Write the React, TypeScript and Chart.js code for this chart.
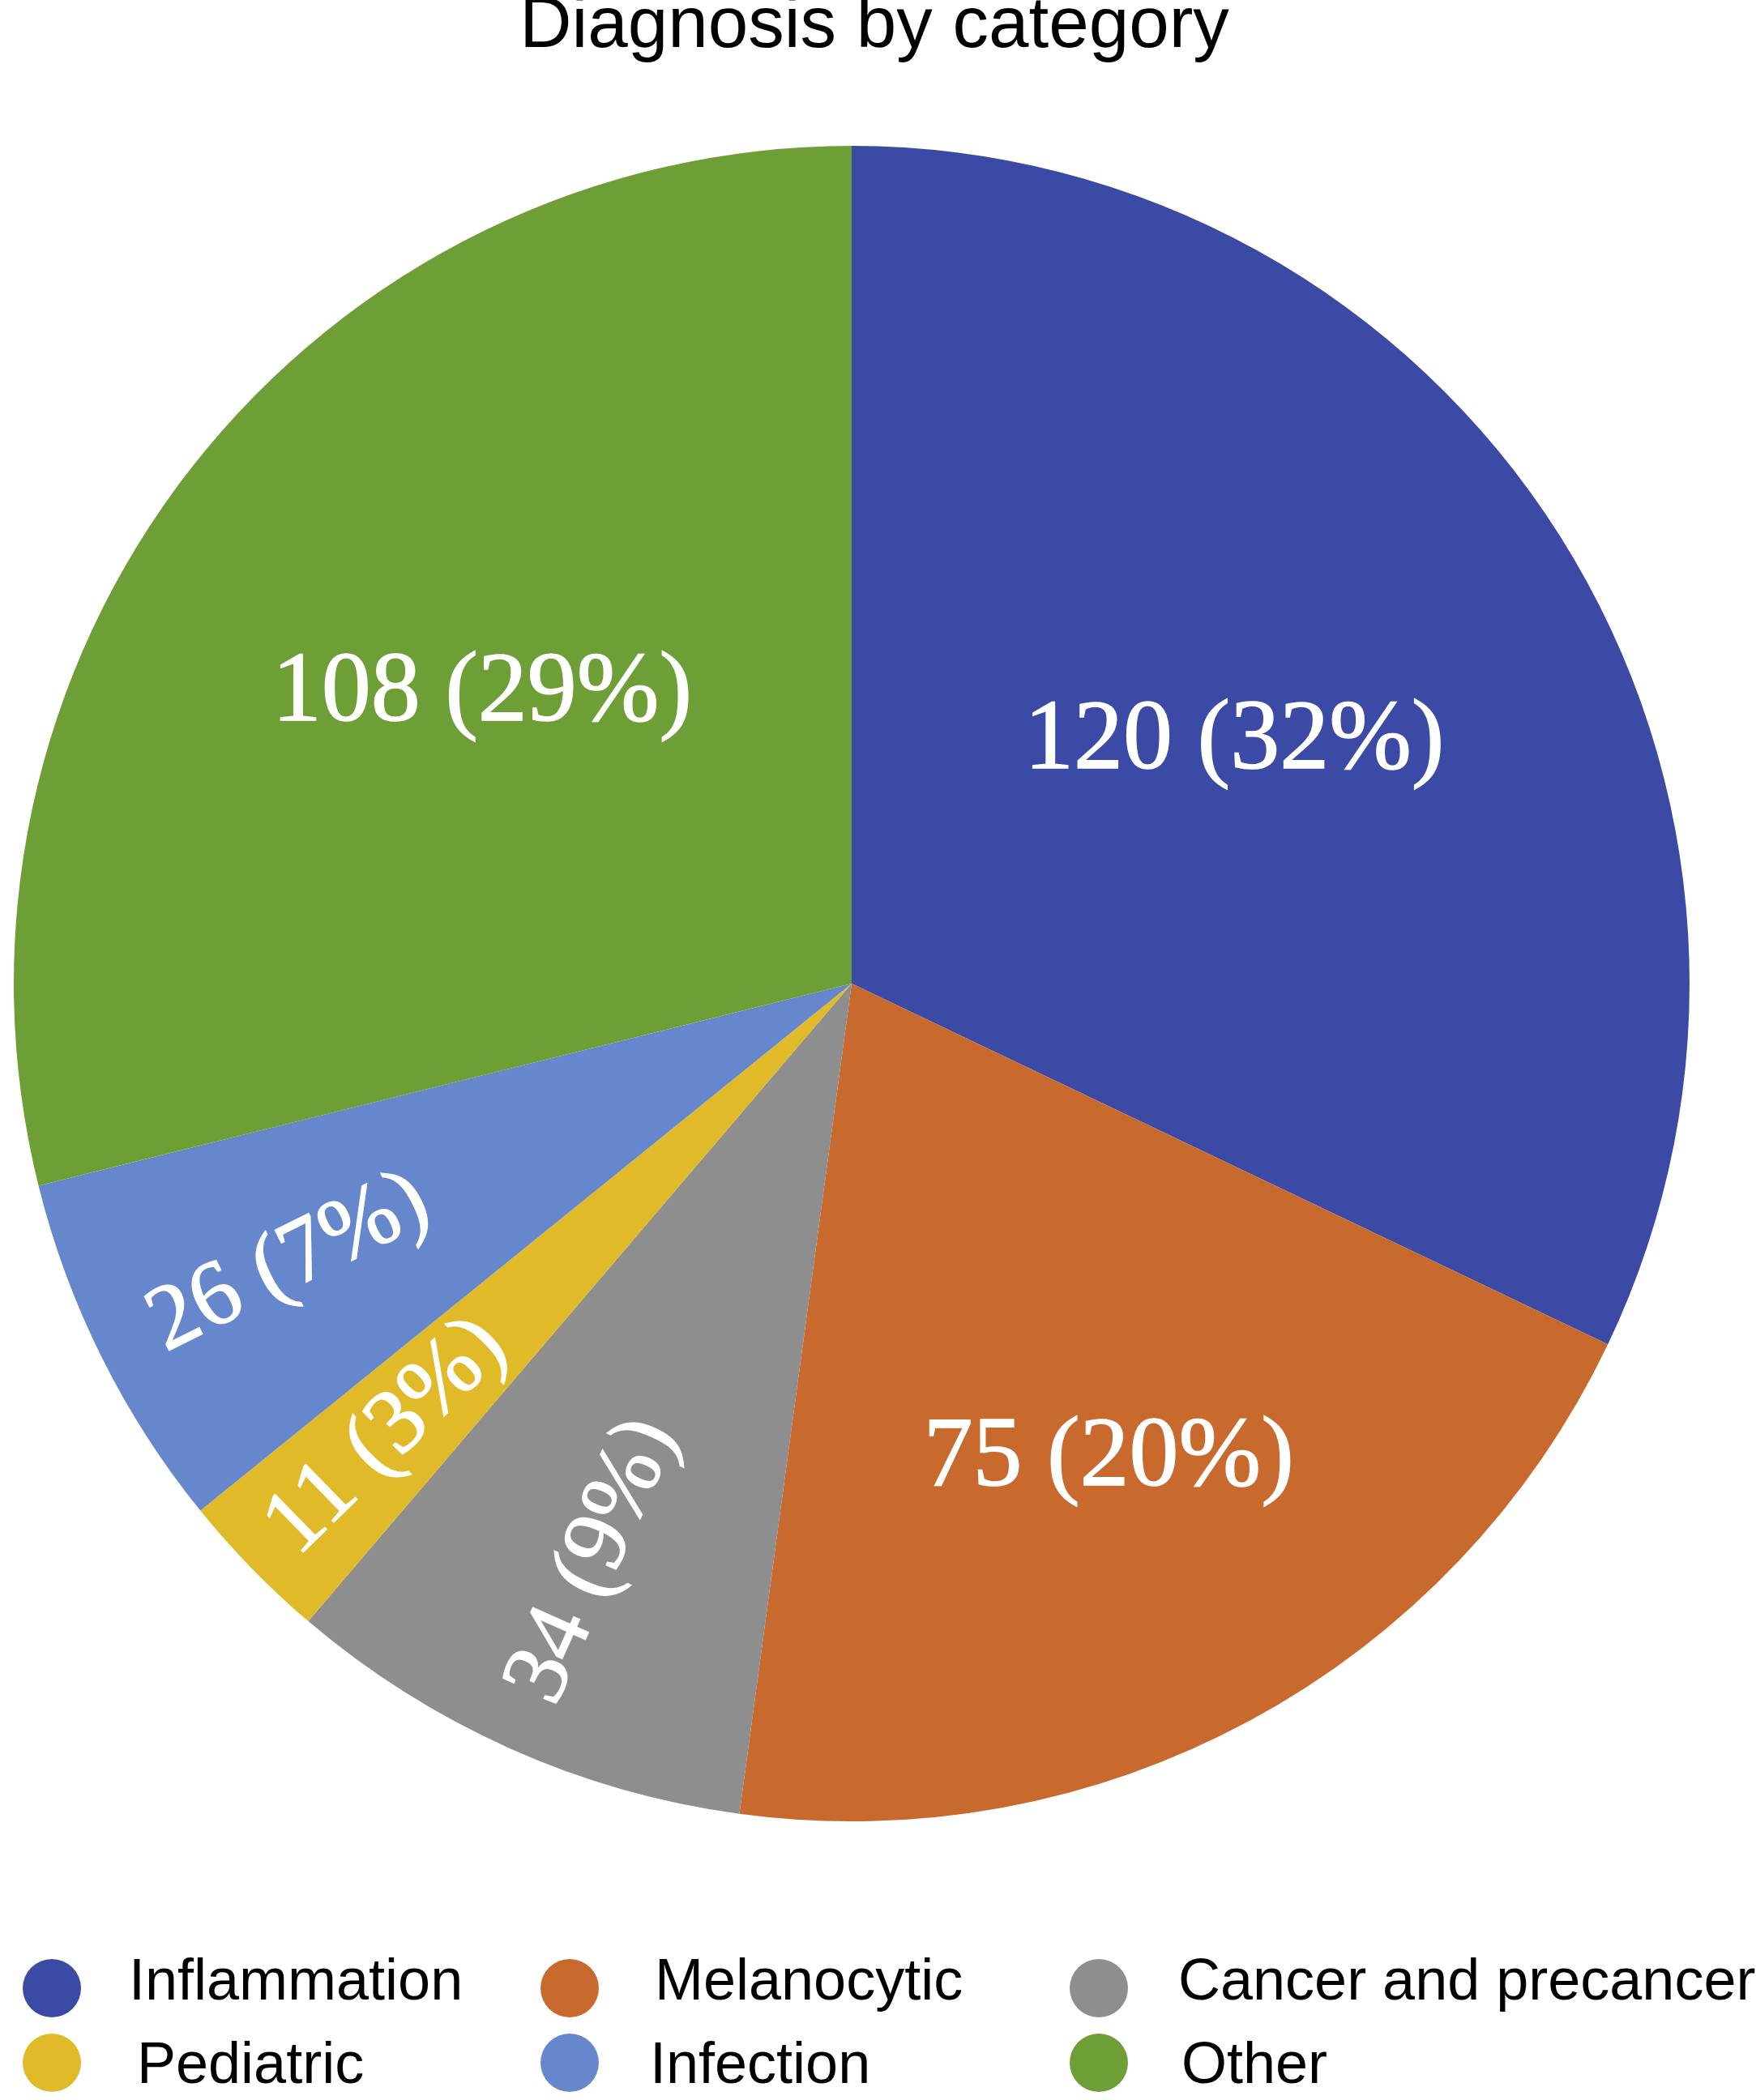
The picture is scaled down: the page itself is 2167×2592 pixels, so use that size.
import React, { useEffect, useRef } from "react";
import { Chart, registerables } from "chart.js";

Chart.register(...registerables);

// ---- data ----
const categories = ["Inflammation", "Melanocytic", "Cancer and precancer", "Pediatric", "Infection", "Other"];
const counts = [120, 75, 34, 11, 26, 108];
const colors = ["#3B4AA4", "#C8692E", "#8E8E8E", "#E0BA28", "#6787CD", "#6E9E36"];
const titleText = "Diagnosis by category";

// ---- label styling (not data) ----
const labelRadius = [0.54, 0.645, 0.755, 0.775, 0.75, 0.56];
const labelRotated = [false, false, true, true, true, false];
const labelFontSize = [122, 122, 114, 114, 114, 122];

// ---- legend layout (not data) ----
const legendCircleX = [64, 703, 1356, 64, 703, 1356];
const legendCircleY = [2454, 2454, 2454, 2546, 2546, 2546];
const legendTextX = [159, 808, 1454, 169, 802, 1458];
const legendBaseY = [2468, 2468, 2468, 2571, 2571, 2571];

const W = 2167;
const H = 2592;

const overlayPlugin = {
  id: "overlay",
  afterDatasetsDraw(chart: any) {
    const ctx = chart.ctx as CanvasRenderingContext2D;
    const meta = chart.getDatasetMeta(0);
    const data = chart.data.datasets[0].data as number[];
    const total = data.reduce((a, b) => a + b, 0);
    ctx.save();
    meta.data.forEach((arc: any, i: number) => {
      const { x, y, startAngle, endAngle, outerRadius } = arc.getProps(
        ["x", "y", "startAngle", "endAngle", "outerRadius"],
        true
      );
      const mid = (startAngle + endAngle) / 2;
      const r = outerRadius * labelRadius[i];
      const px = x + Math.cos(mid) * r;
      const py = y + Math.sin(mid) * r;
      const pct = Math.round((data[i] / total) * 100);
      const txt = `${data[i]} (${pct}%)`;
      ctx.save();
      ctx.translate(px, py);
      if (labelRotated[i]) ctx.rotate(mid - Math.PI);
      ctx.fillStyle = "#ffffff";
      ctx.strokeStyle = "#ffffff";
      ctx.lineWidth = 1.5;
      ctx.font = `${labelFontSize[i]}px 'Liberation Serif', 'Times New Roman', serif`;
      ctx.textAlign = "center";
      ctx.textBaseline = "middle";
      ctx.fillText(txt, 0, 0);
      ctx.strokeText(txt, 0, 0);
      ctx.restore();
    });
    ctx.restore();
  },
  afterDraw(chart: any) {
    const ctx = chart.ctx as CanvasRenderingContext2D;
    ctx.save();
    // title
    ctx.fillStyle = "#000000";
    ctx.font = "89px 'Liberation Sans', Arial, sans-serif";
    ctx.textAlign = "center";
    ctx.textBaseline = "alphabetic";
    ctx.fillText(titleText, 1079, 58);
    // legend
    const labels = chart.data.labels as string[];
    const bg = chart.data.datasets[0].backgroundColor as string[];
    ctx.font = "72px 'Liberation Sans', Arial, sans-serif";
    ctx.textAlign = "left";
    labels.forEach((lab, i) => {
      ctx.beginPath();
      ctx.fillStyle = bg[i];
      ctx.arc(legendCircleX[i], legendCircleY[i], 36, 0, Math.PI * 2);
      ctx.fill();
      ctx.fillStyle = "#000000";
      ctx.fillText(lab, legendTextX[i], legendBaseY[i]);
    });
    ctx.restore();
  },
};

export default function App() {
  const ref = useRef<HTMLCanvasElement | null>(null);
  useEffect(() => {
    document.body.style.margin = "0";
    const canvas = ref.current;
    if (!canvas) return;
    const chart = new Chart(canvas, {
      type: "pie",
      data: {
        labels: categories,
        datasets: [
          {
            data: counts,
            backgroundColor: colors,
            borderWidth: 0,
            hoverOffset: 0,
            offset: 0,
          },
        ],
      },
      options: {
        responsive: false,
        animation: false,
        devicePixelRatio: 1,
        layout: { padding: { left: 17, top: 180, right: 82, bottom: 344 } },
        plugins: {
          legend: { display: false },
          title: { display: false },
          tooltip: { enabled: false },
        },
        events: [],
      },
      plugins: [overlayPlugin],
    });
    return () => chart.destroy();
  }, []);
  return (
    <canvas
      ref={ref}
      width={W}
      height={H}
      style={{ display: "block", width: W, height: H }}
    />
  );
}
